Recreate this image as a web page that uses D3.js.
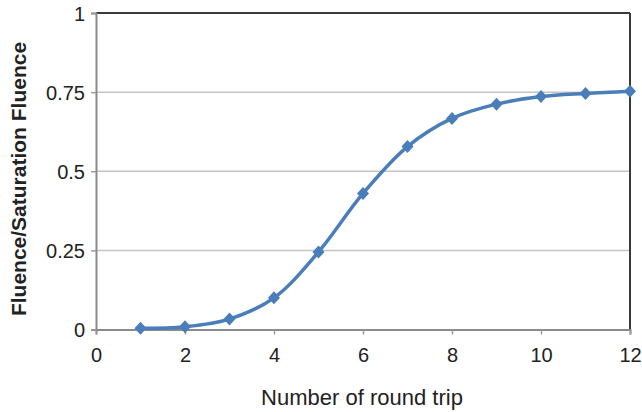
<!DOCTYPE html>
<html>
<head>
<meta charset="utf-8">
<script src="https://cdn.jsdelivr.net/npm/d3@7"></script>
<style>
  body { margin: 0; background: #fff; }
  svg text { font-family: "Liberation Sans", Arial, sans-serif; fill: #222; }
</style>
</head>
<body>
<div id="container"></div>
<script>
// data
const roundTrips = [1, 2, 3, 4, 5, 6, 7, 8, 9, 10, 11, 12];
const fluence = [0.004, 0.009, 0.033, 0.10, 0.245, 0.43, 0.578, 0.667, 0.712, 0.736, 0.746, 0.753];
const xTicks = [0, 2, 4, 6, 8, 10, 12];
const yTicks = [0, 0.25, 0.5, 0.75, 1];
const yTickLabels = ["0", "0.25", "0.5", "0.75", "1"];

const width = 642, height = 412;
const margin = {top: 13, right: 12, bottom: 82.5, left: 96};

const svg = d3.select("#container").append("svg")
  .attr("width", width)
  .attr("height", height);

const xScale = d3.scaleLinear().domain([0, 12]).range([margin.left, width - margin.right]);
const yScale = d3.scaleLinear().domain([0, 1]).range([height - margin.bottom, margin.top]);

// gridlines
svg.append("g")
  .selectAll("line")
  .data(yTicks.slice(1, -1))
  .join("line")
  .attr("x1", xScale(0))
  .attr("x2", xScale(12))
  .attr("y1", d => yScale(d))
  .attr("y2", d => yScale(d))
  .attr("stroke", "#c4c4c4")
  .attr("stroke-width", 1.5);

// frame: top and right dark
svg.append("line")
  .attr("x1", xScale(0)).attr("x2", xScale(12))
  .attr("y1", yScale(1)).attr("y2", yScale(1))
  .attr("stroke", "#3a3a3a").attr("stroke-width", 2);
svg.append("line")
  .attr("x1", xScale(12)).attr("x2", xScale(12))
  .attr("y1", yScale(1)).attr("y2", yScale(0))
  .attr("stroke", "#3a3a3a").attr("stroke-width", 2);

// axes
const xAxis = d3.axisBottom(xScale).tickValues(xTicks).tickSize(5).tickPadding(13);
const yAxis = d3.axisLeft(yScale).tickValues(yTicks).tickSize(5).tickPadding(6)
  .tickFormat((d, i) => yTickLabels[i]);

const xg = svg.append("g")
  .attr("transform", `translate(0,${yScale(0)})`)
  .call(xAxis);
const yg = svg.append("g")
  .attr("transform", `translate(${xScale(0)},0)`)
  .call(yAxis);

[xg, yg].forEach(g => {
  g.select(".domain").attr("stroke", "#8a8a8a").attr("stroke-width", 2);
  g.selectAll(".tick line").attr("stroke", "#9a9a9a").attr("stroke-width", 1.5);
  g.selectAll(".tick text")
    .attr("font-size", 20)
    .attr("font-family", "Liberation Sans, Arial, sans-serif")
    .attr("fill", "#222");
});
yg.selectAll(".tick text").attr("dy", "0.36em");

// line
const line = d3.line()
  .x((d, i) => xScale(roundTrips[i]))
  .y(d => yScale(d))
  .curve(d3.curveCatmullRom.alpha(0.5));

svg.append("path")
  .datum(fluence)
  .attr("fill", "none")
  .attr("stroke", "#4a7ebb")
  .attr("stroke-width", 3.5)
  .attr("d", line);

// diamond markers
svg.append("g")
  .selectAll("path")
  .data(fluence)
  .join("path")
  .attr("transform", (d, i) => `translate(${xScale(roundTrips[i])},${yScale(d)})`)
  .attr("d", "M0,-6.5L6,0L0,6.5L-6,0Z")
  .attr("fill", "#4a7ebb");

// titles
svg.append("text")
  .attr("x", 362)
  .attr("y", 405)
  .attr("text-anchor", "middle")
  .attr("font-size", 22)
  .text("Number of round trip");

svg.append("text")
  .attr("transform", `translate(26,179) rotate(-90)`)
  .attr("text-anchor", "middle")
  .attr("font-size", 21)
  .attr("font-weight", "bold")
  .text("Fluence/Saturation Fluence");
</script>
</body>
</html>
